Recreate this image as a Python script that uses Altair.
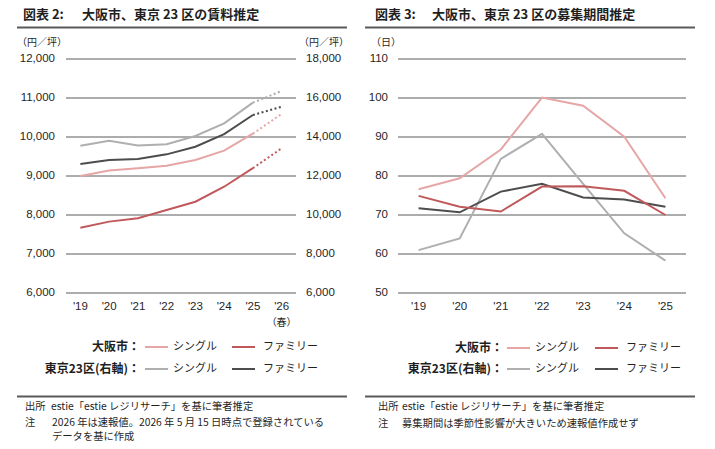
import altair as alt
import pandas as pd

JP = "Noto Sans CJK JP"
LAT = "Liberation Sans"
INK = "#1f1f1f"
GRID = "#5a5a5a"

# ---- data -------------------------------------------------------------
rent_years = ["'19", "'20", "'21", "'22", "'23", "'24", "'25", "'26"]
# 大阪市 (left axis, 円/坪)
osaka_single_rent = [9000, 9140, 9200, 9265, 9410, 9650, 10085, 10590]
osaka_family_rent = [7675, 7830, 7915, 8130, 8340, 8725, 9200, 9710]
# 東京23区 (right axis, 円/坪)
tokyo_single_rent = [13550, 13810, 13570, 13625, 14050, 14700, 15760, 16360]
tokyo_family_rent = [12615, 12820, 12870, 13110, 13500, 14150, 15130, 15550]

period_years = ["'19", "'20", "'21", "'22", "'23", "'24", "'25"]
osaka_single_days = [76.6, 79.4, 86.8, 100.1, 98.0, 90.1, 74.3]
osaka_family_days = [74.9, 72.1, 70.9, 77.3, 77.4, 76.2, 70.0]
tokyo_single_days = [61.0, 64.0, 84.4, 90.8, 78.0, 65.3, 58.3]
tokyo_family_days = [71.7, 70.7, 76.0, 78.0, 74.5, 74.0, 72.1]

rent_left_ticks = [6000, 7000, 8000, 9000, 10000, 11000, 12000]
rent_right_ticks = [6000, 8000, 10000, 12000, 14000, 16000, 18000]
day_ticks = [50, 60, 70, 80, 90, 100, 110]

series_names = ["大阪市 シングル", "大阪市 ファミリー", "東京23区 シングル", "東京23区 ファミリー"]
series_colors = ["#e6a6a6", "#c0595b", "#afafaf", "#4d4d4d"]

# ---- helpers ----------------------------------------------------------
one = pd.DataFrame({"k": [0]})


def long_table(years, named_values):
    rows = []
    for name, vals in named_values:
        for y, v in zip(years, vals):
            rows.append({"year": y, "series": name, "value": v})
    return pd.DataFrame(rows)


def label(text, x, y, size=10.3, weight="normal", align="left", font=JP, color=INK):
    return alt.Chart(one).mark_text(
        text=text, align=align, baseline="middle", fontSize=size,
        fontWeight=weight, font=font, color=color,
    ).encode(x=alt.value(x), y=alt.value(y))


def hline(x1, x2, y, color=GRID, width=1.0):
    return alt.Chart(one).mark_rule(color=color, strokeWidth=width).encode(
        x=alt.value(x1), x2=alt.value(x2), y=alt.value(y)
    )


color_scale = alt.Scale(domain=series_names, range=series_colors)


def line_layer(df, xscale, yscale, dash=None):
    kw = dict(strokeWidth=2)
    if dash:
        kw["strokeDash"] = dash
    return alt.Chart(df).mark_line(**kw).encode(
        x=alt.X("year:O", scale=xscale, axis=None),
        y=alt.Y("value:Q", scale=yscale, axis=None),
        color=alt.Color("series:N", scale=color_scale, legend=None),
        detail="series:N",
    )


def grid_layer(ticks, yscale, x1, x2):
    return alt.Chart(pd.DataFrame({"v": ticks})).mark_rule(color=GRID, strokeWidth=1).encode(
        y=alt.Y("v:Q", scale=yscale, axis=None), x=alt.value(x1), x2=alt.value(x2)
    )


def tick_labels(ticks, yscale, x, align, fmt):
    return alt.Chart(pd.DataFrame({"v": ticks})).mark_text(
        align=align, baseline="middle", font=LAT, fontSize=11.5, color=INK
    ).encode(
        y=alt.Y("v:Q", scale=yscale, axis=None), x=alt.value(x),
        text=alt.Text("v:Q", format=fmt),
    )


def year_labels(years, xscale, y):
    return alt.Chart(pd.DataFrame({"year": years})).mark_text(
        align="center", baseline="middle", font=LAT, fontSize=11.5, color=INK
    ).encode(
        x=alt.X("year:O", scale=xscale, axis=None), y=alt.value(y), text="year:N"
    )


def legend_block(x_end, x_single, x_family, rows_y):
    parts = []
    heads = ["大阪市：", "東京23区(右軸)："]
    for i, (head, y) in enumerate(zip(heads, rows_y)):
        parts.append(label(head, x_end, y, size=12, weight="bold", align="right"))
        parts.append(hline(x_single, x_single + 23, y, series_colors[2 * i], 2))
        parts.append(label("シングル", x_single + 28, y, size=11))
        parts.append(hline(x_family, x_family + 23, y, series_colors[2 * i + 1], 2))
        parts.append(label("ファミリー", x_family + 31, y, size=11))
    return parts


# ---- left panel: 賃料推定 ---------------------------------------------
rx = alt.Scale(type="point", domain=rent_years, range=[66, 296], padding=0.5)
ry_left = alt.Scale(domain=[6000, 12000], range=[293, 59], nice=False, zero=False)
ry_right = alt.Scale(domain=[6000, 18000], range=[293, 59], nice=False, zero=False)

osaka_rent = long_table(rent_years, [(series_names[0], osaka_single_rent),
                                     (series_names[1], osaka_family_rent)])
tokyo_rent = long_table(rent_years, [(series_names[2], tokyo_single_rent),
                                     (series_names[3], tokyo_family_rent)])
solid_years = rent_years[:7]
dotted_years = rent_years[6:]

left = [
    label("図表 2:", 23, 15, size=13, weight="bold"),
    label("大阪市、東京 23 区の賃料推定", 82, 15, size=13, weight="bold"),
    hline(17, 347, 27.5, "#595959", 2.2),
    label("（円／坪）", 17, 43, size=10),
    label("（円／坪）", 299, 43, size=10),
    grid_layer(rent_left_ticks, ry_left, 66, 296),
    tick_labels(rent_left_ticks, ry_left, 55, "right", ","),
    tick_labels(rent_right_ticks, ry_right, 306, "left", ","),
    year_labels(rent_years, rx, 307),
    alt.Chart(pd.DataFrame({"year": ["'26"], "note": ["（春）"]})).mark_text(
        align="center", baseline="middle", font=JP, fontSize=10, color=INK
    ).encode(x=alt.X("year:O", scale=rx, axis=None), y=alt.value(323), text="note:N"),
    line_layer(tokyo_rent[tokyo_rent.year.isin(solid_years)], rx, ry_right),
    line_layer(tokyo_rent[tokyo_rent.year.isin(dotted_years)], rx, ry_right, [2, 2.5]),
    line_layer(osaka_rent[osaka_rent.year.isin(solid_years)], rx, ry_left),
    line_layer(osaka_rent[osaka_rent.year.isin(dotted_years)], rx, ry_left, [2, 2.5]),
]
left += legend_block(140, 145, 232, [347, 369])
left += [
    hline(17, 347, 396.5, "#595959", 2.2),
    label("出所", 25, 407),
    label("estie「estie レジリサーチ」を基に筆者推定", 51, 407),
    label("注", 25, 423),
    label("2026 年は速報値。2026 年 5 月 15 日時点で登録されている", 52, 423),
    label("データを基に作成", 52, 437),
]

# ---- right panel: 募集期間推定 ----------------------------------------
px = alt.Scale(type="point", domain=period_years, range=[398, 686], padding=0.5)
py = alt.Scale(domain=[50, 110], range=[293, 59], nice=False, zero=False)

period = long_table(period_years, [(series_names[0], osaka_single_days),
                                   (series_names[1], osaka_family_days),
                                   (series_names[2], tokyo_single_days),
                                   (series_names[3], tokyo_family_days)])
period["order"] = period.series.map({series_names[2]: 0, series_names[3]: 1,
                                     series_names[0]: 2, series_names[1]: 3})

right = [
    label("図表 3:", 375, 15, size=13, weight="bold"),
    label("大阪市、東京 23 区の募集期間推定", 432, 15, size=13, weight="bold"),
    hline(365, 695, 27.5, "#595959", 2.2),
    label("（日）", 371, 43, size=10),
    grid_layer(day_ticks, py, 398, 686),
    tick_labels(day_ticks, py, 388, "right", "d"),
    year_labels(period_years, px, 307),
    line_layer(period[period.order == 0], px, py),
    line_layer(period[period.order == 1], px, py),
    line_layer(period[period.order == 2], px, py),
    line_layer(period[period.order == 3], px, py),
]
right += legend_block(503, 507, 595, [348, 369])
right += [
    hline(365, 695, 396.5, "#595959", 2.2),
    label("出所", 378, 407),
    label("estie「estie レジリサーチ」を基に筆者推定", 402, 407),
    label("注", 378, 424),
    label("募集期間は季節性影響が大きいため速報値作成せず", 402, 424),
]

chart = (
    alt.layer(*(left + right))
    .resolve_scale(x="independent", y="independent", color="independent")
    .properties(width=715, height=449, autosize=alt.AutoSizeParams(type="none"), padding=0,
                background="white")
    .configure_view(stroke=None)
)

chart.save("out.html", embed_options={"renderer": "svg", "actions": False})
